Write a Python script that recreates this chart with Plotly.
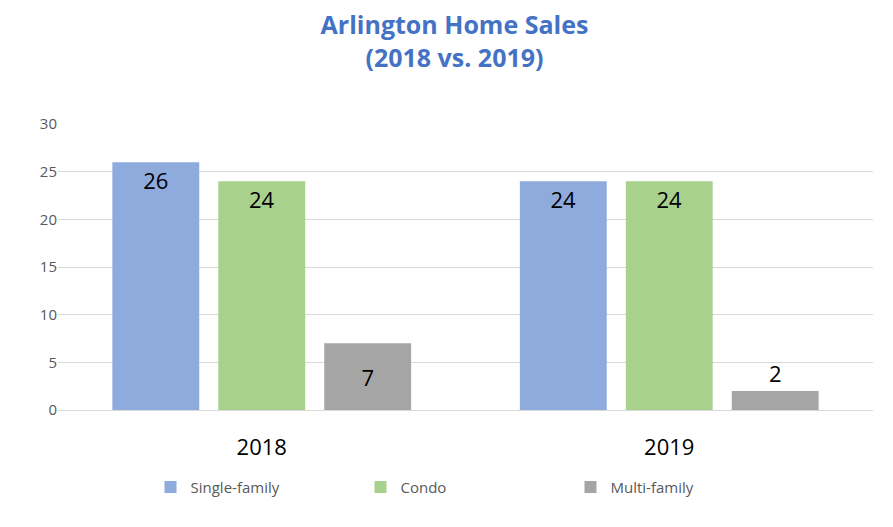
import plotly.graph_objects as go

years = ["2018", "2019"]
single_family = [26, 24]
condo = [24, 24]
multi_family = [7, 2]

fig = go.Figure()
for name, vals, color, pos, anchor in [
        ("Single-family", single_family, "#8faadc", "inside", "end"),
        ("Condo", condo, "#a9d18e", "inside", "end"),
        ("Multi-family", multi_family, "#a5a5a5", ["inside", "outside"], "middle")]:
    fig.add_trace(go.Bar(
        name=name, x=years, y=vals, text=vals, textposition=pos,
        insidetextanchor=anchor, marker=dict(color=color, line=dict(width=0)),
        textfont=dict(size=22, color="black"), constraintext="none",
        textangle=0, cliponaxis=False,
    ))

fig.update_layout(
    width=893, height=527,
    paper_bgcolor="white", plot_bgcolor="white",
    font=dict(family="Open Sans, Liberation Sans", color="#404040"),
    title=dict(text="<b>Arlington Home Sales<br>(2018 vs. 2019)</b>", x=0.5, y=0.95,
               xanchor="center", yanchor="top",
               font=dict(size=25, color="#4472c4")),
    margin=dict(l=50, r=28, t=116, b=125),
    barmode="group", bargap=0.22, bargroupgap=0.18,
    xaxis=dict(tickfont=dict(size=22, color="black"), showline=True,
               linecolor="#d9d9d9", ticks="", ticklabelstandoff=18),
    yaxis=dict(range=[0, 30], dtick=5, gridcolor="#d9d9d9", zeroline=False,
               tickfont=dict(size=15, color="#595959"), ticklen=0),
    legend=dict(orientation="h", x=0.5, xanchor="center", y=-0.27, yanchor="middle",
                font=dict(size=15, color="#595959"), traceorder="normal",
                itemwidth=30, entrywidth=165),
    uniformtext=dict(minsize=22, mode="show"),
)

fig.write_html("out.html")
